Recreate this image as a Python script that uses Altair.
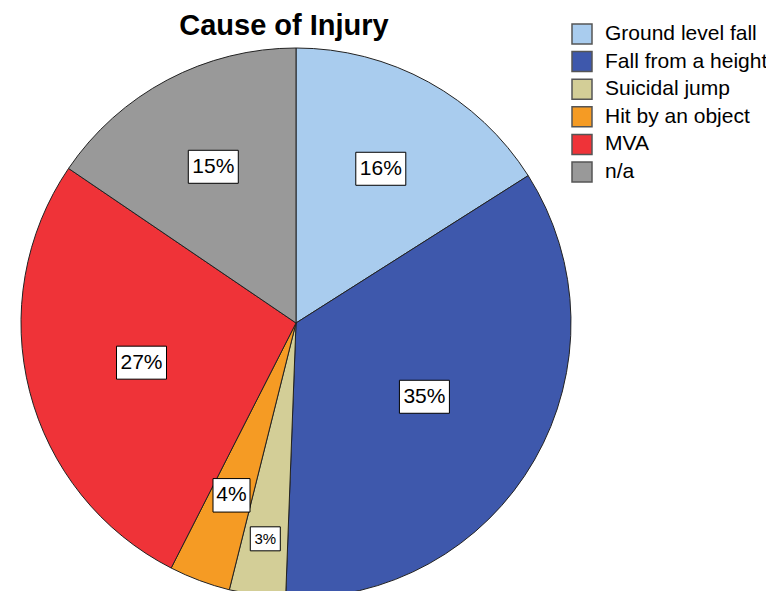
import altair as alt
import pandas as pd

causes = ["Ground level fall", "Fall from a height", "Suicidal jump",
          "Hit by an object", "MVA", "n/a"]
shares = [16.0, 34.6, 3.3, 3.6, 27.0, 15.5]
labels = ["16%", "35%", "3%", "4%", "27%", "15%"]
colors = ["#A9CCEE", "#3E58AC", "#D3CE97", "#F59B24", "#EF3338", "#999999"]

df = pd.DataFrame({"cause": causes, "share": shares, "label": labels,
                   "idx": list(range(len(causes)))})

FONT = "Liberation Sans, Arial, sans-serif"

color = alt.Color(
    "cause:N",
    sort=causes,
    scale=alt.Scale(domain=causes, range=colors),
    legend=alt.Legend(
        title=None, orient="none", legendX=563, legendY=-35, padding=0,
        symbolType="square", symbolSize=400, symbolStrokeColor="#555555",
        symbolStrokeWidth=1.5, symbolOpacity=1, labelFontSize=21, labelFont=FONT,
        labelColor="black", labelOffset=12, rowPadding=1.6, labelLimit=300,
    ),
)

pie = alt.Chart(df).mark_arc(radius=275, stroke="#222222", strokeWidth=1).encode(
    theta=alt.Theta("share:Q", stack=True),
    color=color,
    order=alt.Order("idx:Q"),
)

lab = (
    alt.Chart(df)
    .transform_window(cum="sum(share)", sort=[alt.SortField("idx")], frame=[None, 0])
    .transform_joinaggregate(total="sum(share)")
    .transform_calculate(
        mid="2*PI*(datum.cum - datum.share/2)/datum.total",
        lr="datum.share < 3.5 ? 218 : (datum.share < 5 ? 184 : 200 - 1.5*datum.share)",
        px="width/2 + datum.lr*sin(datum.mid)",
        py="height/2 - datum.lr*cos(datum.mid)",
        box="datum.share < 3.5 ? 'small' : (length(datum.label) < 3 ? 'narrow' : 'wide')",
    )
)

boxes = lab.mark_point(filled=True, fill="white", stroke="black", strokeWidth=1,
                       opacity=1, fillOpacity=1).encode(
    x=alt.X("px:Q", scale=None),
    y=alt.Y("py:Q", scale=None),
    shape=alt.Shape("box:N", legend=None, scale=alt.Scale(
        domain=["wide", "narrow", "small"],
        range=["M-1,-0.66L1,-0.66L1,0.66L-1,0.66Z",
               "M-0.74,-0.67L0.74,-0.67L0.74,0.67L-0.74,0.67Z",
               "M-0.6,-0.48L0.6,-0.48L0.6,0.48L-0.6,0.48Z"])),
    size=alt.value(2500),
)

texts = lab.mark_text(font=FONT, align="center", baseline="middle", color="black").encode(
    x=alt.X("px:Q", scale=None),
    y=alt.Y("py:Q", scale=None),
    text="label:N",
    size=alt.condition("datum.share < 3.5", alt.value(15), alt.value(21)),
)

chart = (
    alt.layer(pie, boxes, texts)
    .properties(
        width=576, height=530,
        autosize=alt.AutoSizeParams(type="none"),
        padding={"left": 0, "top": 50, "right": 182, "bottom": 3},
        title=alt.TitleParams("Cause of Injury", fontSize=29, font=FONT,
                              fontWeight="bold", color="black", anchor="middle",
                              dx=-12, offset=-18),
    )
    .configure_view(stroke=None)
)

chart.save("out.html", embed_options={"renderer": "svg", "actions": False})
